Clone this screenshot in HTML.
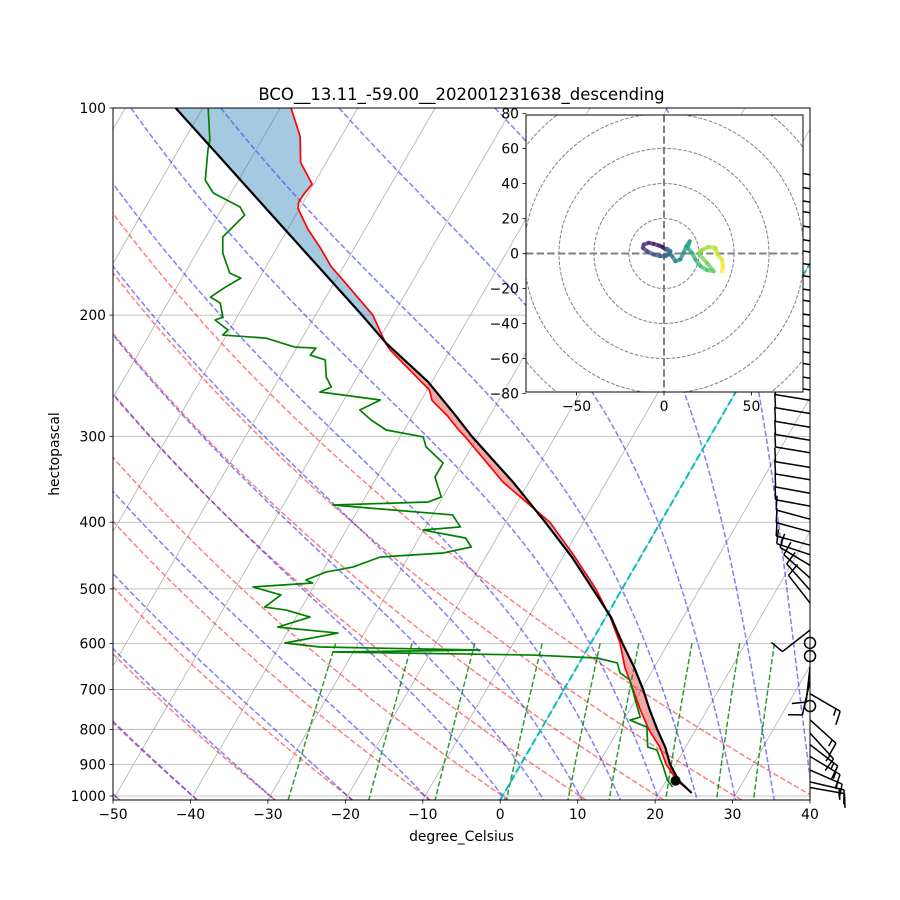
<!DOCTYPE html>
<html><head><meta charset="utf-8"><style>
html,body{margin:0;padding:0;background:#fff}
svg{display:block;font-family:"DejaVu Sans","Liberation Sans",sans-serif}
</style></head><body>
<svg id="chart" xmlns="http://www.w3.org/2000/svg" width="900" height="900" viewBox="0 0 900 900">
<defs>
<clipPath id="plotClip"><rect x="113" y="108" width="697" height="692"/></clipPath>
<clipPath id="hodoClip"><rect x="526" y="115" width="277" height="277"/></clipPath>
</defs>
<rect x="0" y="0" width="900" height="900" fill="#fff"/>
<text x="461.5" y="100" font-size="16.5" text-anchor="middle">BCO__13.11_-59.00__202001231638_descending</text>
<text x="461.5" y="841" font-size="13.9" text-anchor="middle">degree_Celsius</text>
<text x="0" y="0" font-size="13.9" text-anchor="middle" transform="translate(59,454) rotate(-90)">hectopascal</text>
<g id="gBack" clip-path="url(#plotClip)"></g>
<g id="gAxes"></g>
<g id="gBarbs"></g>
<g id="gHodo"></g>
</svg>
<script>
// ---- data ----
const tempP = [100,110,120,129,133,137,140,150,160,170,180,200,220,225,257,266,280,294,300,350,400,450,500,550,600,650,700,750,800,850,900,950,975];
const tempT = [-78.6,-75.3,-73.3,-70.2,-70.5,-70.6,-70.2,-67.4,-64.3,-61.6,-58.4,-52.6,-48.8,-47.7,-39.7,-38.6,-35.5,-32.9,-31.7,-23.3,-14.3,-8.4,-3.4,0.6,3.8,6.2,8.9,11.4,13.9,16.7,18.8,21.4,23.2];
const dewP = [100,111.3,115.1,127.3,132.9,139.3,143.1,154,162.5,173.8,176.7,182,188.3,192.1,201.4,203.3,210.2,213.8,216,222.6,223.3,228.6,232.4,246,254.4,258.7,261.3,265.7,274.8,284.1,293.8,300.7,310.9,328.1,343.9,367.6,373.8,377.6,390.4,406.4,410.6,421.7,434.6,443.4,449.4,464.8,472.6,485.3,490.2,496.8,510.3,531.3,536.7,549.4,568.2,579.7,599.3,607.4,613.5,617.6,623.9,630.1,640.7,662.5,678.3,725.4,767.9,775.6,794,848.8,857.3,907.4,948.1,970.9];
const dewT = [-89.3,-86.7,-86.2,-84.3,-82.3,-77.8,-76.6,-77.8,-76.6,-74.2,-72.4,-73.7,-74.9,-73.2,-71.8,-72.6,-70.2,-70.5,-64.7,-60.3,-57.5,-57.7,-55.4,-54,-52.6,-53.7,-50.5,-45.3,-47.2,-45,-42.3,-37,-35.9,-32.5,-32.5,-30.2,-31.5,-43.6,-27.4,-25.5,-30.1,-24,-22.6,-25.8,-33.6,-36.4,-39.5,-41.5,-40.4,-47.8,-43.6,-44.8,-41.8,-38.2,-41.6,-33.4,-39.5,-34.7,-13.8,-32.6,-6.6,1.9,4.9,6,7.8,10,11.9,10.8,13.5,15.1,16.5,18.6,20.1,21.3];
const parcelP = [100,120,150,180,200,220,250,280,300,350,400,450,500,550,600,650,700,750,800,850,900,950,990];
const parcelT = [-93.5,-83.1,-70.4,-60,-54,-48.7,-40.5,-34.4,-30.8,-22,-14.9,-8.8,-3.8,0.7,4.1,7.4,10.2,12.6,15,17.4,19.3,21.6,24.2];
const lclP = 950;
const lclT = 21.2;
const xTicks = [-50,-40,-30,-20,-10,0,10,20,30,40];
const yTicks = [100,200,300,400,500,600,700,800,900,1000];
const dryT0 = [-50,-40,-30,-20,-10,0,10,20,30,40];
const moistT0 = [-50,-40,-30,-20,-10,0,5,10,15,20,25,30,35,40];
const mixRatios = [0.0004,0.001,0.002,0.004,0.007,0.01,0.016,0.024,0.032];
const barbP = [125,131,137,142,149,156,162,169,176,184,191,200,208,217,227,236,247,257,266,278,291,304,317,333,347,363,379,396,413,432,446,462,482,502,524,574,650,680,710,775,810,842,876,917,954,972];
const barbU = [12,12,12,12,12,12,12,12,12,12,12,12,12,12,12,12,12,12,12,12,12,12,12,12,12,11,11,11,11,11,12,10,9,8,7,9,1,2,-12,-10,-10,-13,-15,-16,-17,-17];
const barbV = [-2,-2,-2,-2,-2,-2,-2,-2,-2,-2,-2,-2,-2,-2,-2,-2,-2,-2,-2,-2,-2,-2,-2,-2,-2,-2,-2,-3,-3,-3,-4,-6,-8,-9,-9,7,9,9,7,9,11,10,9,7,4,3];
const calmP = [599,626,740];
const hodoU = [0.8,-1.1,-3,-5.9,-8.8,-11.6,-12,-9.7,-5.9,-2.1,0.8,2.7,3.6,1.7,4.6,6.5,9.3,11.2,12.8,14.7,13.5,16,17.9,20.8,24.6,28.4,24.6,19.8,21.7,25.5,29.3,30.7,33.1,33.7,33.1];
const hodoV = [2.3,3.8,4.6,5.5,6.1,5.1,3.2,1.3,-0.6,-1.5,-1.5,-0.6,1.3,2.7,-1.5,-4.4,-3.4,0.4,4.2,7,3.2,0.4,-3.4,-7.2,-9.5,-10.1,-5.5,0.0,1.9,3.8,3.2,-0.6,-3.4,-7.2,-10.1];
const hodoXTicks = [-50,0,50];
const hodoYTicks = [80,60,40,20,0,-20,-40,-60,-80];
const hodoRings = [20,40,60,80,100];

// ---- scales ----
const NS = "http://www.w3.org/2000/svg";
const X0 = 113, X1 = 810, Y0 = 108, Y1 = 800, PXC = (X1 - X0) / 90, DEC = 688, SKEW = Math.tan(Math.PI / 6);
const PBOT = 100 * Math.pow(10, (Y1 - Y0) / DEC);
function yOf(p) { return Y0 + DEC * Math.log10(p / 100); }
function xOf(T, p) { return X0 + (T + 50) * PXC + SKEW * (Y1 - yOf(p)); }
function el(tag, attrs, parent) {
  const e = document.createElementNS(NS, tag);
  for (const k in attrs) e.setAttribute(k, attrs[k]);
  parent.appendChild(e);
  return e;
}
function pathD(ps, ts) {
  let d = "";
  for (let i = 0; i < ps.length; i++) d += (i ? "L" : "M") + xOf(ts[i], ps[i]).toFixed(2) + "," + yOf(ps[i]).toFixed(2);
  return d;
}
const gBack = document.getElementById("gBack");
const gAxes = document.getElementById("gAxes");
const gBarbs = document.getElementById("gBarbs");
const gHodo = document.getElementById("gHodo");

// grid: skewed isotherms
for (let T = -110; T <= 40; T += 10) {
  const ln = el("line", {x1: xOf(T, PBOT), y1: Y1, x2: xOf(T, 100), y2: Y0, stroke: "#b0b0b0", "stroke-width": 0.8}, gBack);
  
  
}
yTicks.forEach(p => {
  const ln = el("line", {x1: X0, x2: X1, y1: yOf(p), y2: yOf(p), stroke: "#b0b0b0", "stroke-width": 0.8}, gBack);
  
  
});

// dry adiabats
function levels(p0, p1, n) { const a = []; for (let i = 0; i <= n; i++) a.push(p0 + (p1 - p0) * i / n); return a; }
const plev = levels(PBOT, 100, 60);
dryT0.forEach(t0 => {
  const th = t0 + 273.15;
  const ts = plev.map(p => th * Math.pow(p / 1000, 0.2857) - 273.15);
  const pa = el("path", {d: pathD(plev, ts), fill: "none", stroke: "#ff0000", "stroke-opacity": 0.5, "stroke-width": 1.5, "stroke-dasharray": "5.5,2.4"}, gBack);
  
  
});

// moist adiabats
function dTdp(p, T) {
  const Tc = T - 273.15, es = 6.112 * Math.exp(17.67 * Tc / (Tc + 243.5)), rs = 0.622 * es / (p - es);
  const Rd = 287.04, Lv = 2.501e6, Cp = 1005.7;
  return (Rd * T + Lv * rs) / (Cp + Lv * Lv * rs * 0.622 / (Rd * T * T)) / p;
}
function integrate(T, p0, p1, n) {
  const out = [[p0, T]]; const h = (p1 - p0) / n; let p = p0;
  for (let i = 0; i < n; i++) {
    const k1 = dTdp(p, T), k2 = dTdp(p + h / 2, T + h * k1 / 2), k3 = dTdp(p + h / 2, T + h * k2 / 2), k4 = dTdp(p + h, T + h * k3);
    T += h * (k1 + 2 * k2 + 2 * k3 + k4) / 6; p += h; out.push([p, T]);
  }
  return out;
}
moistT0.forEach(t0 => {
  const up = integrate(t0 + 273.15, 1000, 100, 180).reverse();
  const dn = integrate(t0 + 273.15, 1000, PBOT, 4).slice(1);
  const all = up.concat(dn);
  const pa = el("path", {d: pathD(all.map(a => a[0]), all.map(a => a[1] - 273.15)), fill: "none", stroke: "#0000ff", "stroke-opacity": 0.5, "stroke-width": 1.5, "stroke-dasharray": "5.5,2.4"}, gBack);
  
  
});

// mixing ratio lines
const mlev = levels(600, PBOT, 20);
mixRatios.forEach(w => {
  const ts = mlev.map(p => { const e = p * w / (0.622 + w); const l = Math.log(e / 6.112); return 243.5 * l / (17.67 - l); });
  const pa = el("path", {d: pathD(mlev, ts), fill: "none", stroke: "#008000", "stroke-opacity": 0.8, "stroke-width": 1.5, "stroke-dasharray": "5.5,2.4"}, gBack);
  
  
});

// CAPE / CIN shading (contiguous polygons by sign)
function interpLog(ps, ts, p) {
  if (p <= ps[0]) return ts[0];
  for (let i = 1; i < ps.length; i++) if (p <= ps[i]) {
    const f = (Math.log(p) - Math.log(ps[i - 1])) / (Math.log(ps[i]) - Math.log(ps[i - 1]));
    return ts[i - 1] + f * (ts[i] - ts[i - 1]);
  }
  return ts[ts.length - 1];
}
const pTop = Math.max(tempP[0], parcelP[0]), pBot = Math.min(tempP[tempP.length - 1], parcelP[parcelP.length - 1]);
const NF = 400;
const grid = [];
for (let i = 0; i <= NF; i++) {
  const p = pTop * Math.pow(pBot / pTop, i / NF);
  grid.push({p: p, e: interpLog(tempP, tempT, p), q: interpLog(parcelP, parcelT, p)});
}
let run = [grid[0]], runSign = Math.sign(grid[0].e - grid[0].q);
function flush(arr, sgn) {
  if (arr.length < 2 || sgn === 0) return;
  const col = sgn > 0 ? "#1f77b4" : "#d62728";
  const pts = arr.map(g => xOf(g.e, g.p).toFixed(2) + "," + yOf(g.p).toFixed(2))
    .concat(arr.slice().reverse().map(g => xOf(g.q, g.p).toFixed(2) + "," + yOf(g.p).toFixed(2)));
  const poly = el("polygon", {points: pts.join(" "), fill: col, "fill-opacity": 0.4}, gBack);
  
  
}
for (let i = 1; i < grid.length; i++) {
  const s = Math.sign(grid[i].e - grid[i].q);
  if (s !== runSign && s !== 0) {
    const a = grid[i - 1], b = grid[i];
    const da = a.e - a.q, db = b.e - b.q, f = da / (da - db);
    const cp = Math.exp(Math.log(a.p) + f * (Math.log(b.p) - Math.log(a.p)));
    const ct = a.e + f * (b.e - a.e);
    const cross = {p: cp, e: ct, q: ct};
    run.push(cross); flush(run, runSign);
    run = [cross, b]; runSign = s;
  } else run.push(grid[i]);
}
flush(run, runSign);

// freezing isotherm (cyan)
const iso0 = el("line", {x1: xOf(0, PBOT), y1: Y1, x2: xOf(0, 100), y2: Y0, stroke: "#00bfbf", "stroke-width": 2, "stroke-dasharray": "7.4,3.2"}, gBack);



// profiles
const tLine = el("path", {d: pathD(tempP, tempT), fill: "none", stroke: "#ff0000", "stroke-width": 1.7, "stroke-linejoin": "round"}, gBack);


const dLine = el("path", {d: pathD(dewP, dewT), fill: "none", stroke: "#008000", "stroke-width": 1.7, "stroke-linejoin": "round"}, gBack);


const pLine = el("path", {d: pathD(parcelP, parcelT), fill: "none", stroke: "#000", "stroke-width": 2.2, "stroke-linejoin": "round"}, gBack);


const lcl = el("circle", {cx: xOf(lclT, lclP), cy: yOf(lclP), r: 5, fill: "#000"}, gBack);



// axes frame & ticks
const frame = el("rect", {x: X0, y: Y0, width: X1 - X0, height: Y1 - Y0, fill: "none", stroke: "#000", "stroke-width": 1}, gAxes);


xTicks.forEach(T => {
  const x = X0 + (T + 50) * PXC;
  const tk = el("line", {x1: x, x2: x, y1: Y1, y2: Y1 + 3.5, stroke: "#000", "stroke-width": 0.8}, gAxes);
  
  
  const tx = el("text", {x: x, y: Y1 + 19, "font-size": 13.9, "text-anchor": "middle"}, gAxes);
  tx.textContent = (T < 0 ? "\u2212" + (-T) : String(T));
  
  
});
yTicks.forEach(p => {
  const y = yOf(p);
  const tk = el("line", {x1: X0 - 3.5, x2: X0, y1: y, y2: y, stroke: "#000", "stroke-width": 0.8}, gAxes);
  
  
  const tx = el("text", {x: X0 - 7, y: y + 5, "font-size": 13.9, "text-anchor": "end"}, gAxes);
  tx.textContent = String(p);
  
  
});

// wind barbs
const BL = 35;
for (let i = 0; i < barbP.length; i++) {
  const u = barbU[i], v = barbV[i], sp = Math.hypot(u, v);
  const bx = X1, by = yOf(barbP[i]);
  const dx = -u / sp, dy = v / sp;
  const tx = bx + dx * BL, ty = by + dy * BL;
  const px = -dy, py = dx;
  let d = "M" + bx.toFixed(1) + "," + by.toFixed(1) + "L" + tx.toFixed(1) + "," + ty.toFixed(1);
  let r = Math.round(sp / 5) * 5, pos = 0;
  while (r >= 10) {
    const sx = tx - dx * pos, sy = ty - dy * pos;
    d += "M" + sx.toFixed(1) + "," + sy.toFixed(1) + "L" + (sx + px * 14 + dx * 3).toFixed(1) + "," + (sy + py * 14 + dy * 3).toFixed(1);
    r -= 10; pos += 5;
  }
  if (r >= 5) {
    if (pos === 0) pos = 5;
    const sx = tx - dx * pos, sy = ty - dy * pos;
    d += "M" + sx.toFixed(1) + "," + sy.toFixed(1) + "L" + (sx + px * 7 + dx * 1.5).toFixed(1) + "," + (sy + py * 7 + dy * 1.5).toFixed(1);
  }
  const b = el("path", {d: d, fill: "none", stroke: "#000", "stroke-width": 1.5}, gBarbs);
  
  
}
calmP.forEach(p => {
  const c = el("circle", {cx: X1, cy: yOf(p), r: 5.5, fill: "none", stroke: "#000", "stroke-width": 1.5}, gBarbs);
  
  
});

// hodograph
const HX0 = 526, HY0 = 115, HW = 277, HCX = 664, HCY = 253.5, HS = 1.75;
const hbg = el("rect", {x: HX0, y: HY0, width: HW, height: HW, fill: "#fff"}, gHodo);


const hin = el("g", {"clip-path": "url(#hodoClip)"}, gHodo);


hodoRings.forEach(r => {
  const c = el("circle", {cx: HCX, cy: HCY, r: r * HS, fill: "none", stroke: "#808080", "stroke-width": 1, "stroke-dasharray": "3.7,1.6"}, hin);
  
  
});
const hx = el("line", {x1: HX0, x2: HX0 + HW, y1: HCY, y2: HCY, stroke: "#808080", "stroke-width": 2, "stroke-dasharray": "7.4,3.2"}, hin);


const hy = el("line", {x1: HCX, x2: HCX, y1: HY0, y2: HY0 + HW, stroke: "#808080", "stroke-width": 2, "stroke-dasharray": "7.4,3.2"}, hin);


const VIR = ["#440154","#482878","#3e4989","#31688e","#26828e","#1f9e89","#35b779","#6ece58","#b5de2b","#fde725"];
function vir(t) {
  const f = t * (VIR.length - 1), i = Math.min(VIR.length - 2, Math.floor(f)), g = f - i;
  const a = VIR[i], b = VIR[i + 1];
  const c = [1, 3, 5].map(k => Math.round(parseInt(a.substr(k, 2), 16) * (1 - g) + parseInt(b.substr(k, 2), 16) * g));
  return "rgb(" + c.join(",") + ")";
}
for (let i = 0; i < hodoU.length - 1; i++) {
  const s = el("line", {x1: HCX + hodoU[i] * HS, y1: HCY - hodoV[i] * HS, x2: HCX + hodoU[i + 1] * HS, y2: HCY - hodoV[i + 1] * HS, stroke: vir(i / (hodoU.length - 2)), "stroke-width": 4, "stroke-opacity": 0.75, "stroke-linecap": "round"}, hin);
  
  
}
const hf = el("rect", {x: HX0, y: HY0, width: HW, height: HW, fill: "none", stroke: "#000", "stroke-width": 1}, gHodo);


hodoYTicks.forEach(v => {
  const y = HCY - v * HS;
  const tk = el("line", {x1: HX0 - 3.5, x2: HX0, y1: y, y2: y, stroke: "#000", "stroke-width": 0.8}, gHodo);
  
  
  const tx = el("text", {x: HX0 - 7, y: y + 5, "font-size": 13.9, "text-anchor": "end"}, gHodo);
  tx.textContent = (v < 0 ? "\u2212" + (-v) : String(v));
  
  
});
hodoXTicks.forEach(u => {
  const x = HCX + u * HS;
  const tk = el("line", {x1: x, x2: x, y1: HY0 + HW, y2: HY0 + HW + 3.5, stroke: "#000", "stroke-width": 0.8}, gHodo);
  
  
  const tx = el("text", {x: x, y: HY0 + HW + 19, "font-size": 13.9, "text-anchor": "middle"}, gHodo);
  tx.textContent = (u < 0 ? "\u2212" + (-u) : String(u));
  
  
});
</script>
</body></html>
